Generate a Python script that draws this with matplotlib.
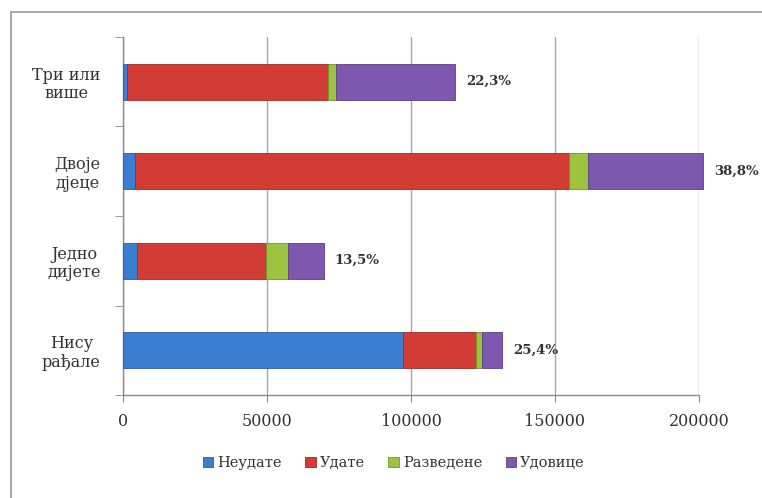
import matplotlib
matplotlib.use("Agg")
import matplotlib.pyplot as plt
from matplotlib.patches import Rectangle
import numpy as np

categories = ["Нису\nрађале", "Једно\nдијете", "Двоје\nдјеце", "Три или\nвише"]
series_names = ["Неудате", "Удате", "Разведене", "Удовице"]
neudate   = [97300, 5000, 4100, 1500]
udate     = [25100, 44800, 150800, 69700]
razvedene = [2300, 7500, 6500, 2700]
udovice   = [6800, 12400, 40100, 41500]
percent_labels = ["25,4%", "13,5%", "38,8%", "22,3%"]
x_ticks = [0, 50000, 100000, 150000, 200000]

colors = ["#3B7DD0", "#D33C34", "#9CC43E", "#7E58AE"]
edges = ["#2A5E9E", "#9E2A25", "#739330", "#5C3F84"]

plt.rcParams['font.family'] = ['DejaVu Serif']

fig = plt.figure(figsize=(7.62, 4.98), dpi=100)
ax = fig.add_axes([123/762, 1-395/498, (699-123)/762, (395-37)/498])

# outer chart frame
fig.patches.append(Rectangle((11/762, -0.05), 1.1, 1-12/498+0.05, transform=fig.transFigure,
                             fill=False, edgecolor="#9A9A9A", linewidth=1.2, zorder=0))

y = np.arange(len(categories))
left = np.zeros(len(categories))
for vals, name, c, e in zip([neudate, udate, razvedene, udovice], series_names, colors, edges):
    bars = ax.barh(y, vals, left=left, height=0.4, color=c, edgecolor=e, linewidth=0.6,
                   label=name, zorder=3)
    for b in bars:
        b.set_clip_on(False)
    left = left + np.array(vals)

for yi, tot, lab in zip(y, left, percent_labels):
    ax.annotate(lab, xy=(tot, yi), xytext=(8, 0), textcoords="offset points",
                va="center", ha="left", fontsize=9.5, fontweight="bold",
                color="#333333", annotation_clip=False)

ax.set_xlim(0, 200000)
ax.set_ylim(-0.5, 3.5)
ax.set_xticks(x_ticks)
ax.set_xticklabels([str(v) for v in x_ticks], fontsize=11.5, color="#333333")
ax.set_yticks(y)
ax.set_yticklabels(categories, fontsize=11.5, color="#333333", linespacing=1.1,
                   multialignment="center")
ax.set_yticks(np.arange(-0.5, 3.6, 1.0), minor=True)
ax.tick_params(axis="y", which="major", length=0, pad=16)
ax.tick_params(axis="y", which="minor", length=6, color="#8C8C8C", direction="out")
ax.tick_params(axis="x", length=5, color="#8C8C8C", direction="out", pad=8)

ax.grid(axis="x", color="#A6A6A6", linewidth=1.0, zorder=0)
ax.set_axisbelow(True)
for s in ["top", "right"]:
    ax.spines[s].set_visible(False)
for s in ["left", "bottom"]:
    ax.spines[s].set_color("#8C8C8C")
    ax.spines[s].set_linewidth(1.0)

handles, labels = ax.get_legend_handles_labels()
fig.legend(handles, labels, loc="center", bbox_to_anchor=(0.517, 1-463/498), ncol=4,
           frameon=False, fontsize=10.5, handlelength=0.7, handleheight=0.7,
           handletextpad=0.3, columnspacing=1.6, labelcolor="#333333")

fig.savefig("out.png", dpi=100)
